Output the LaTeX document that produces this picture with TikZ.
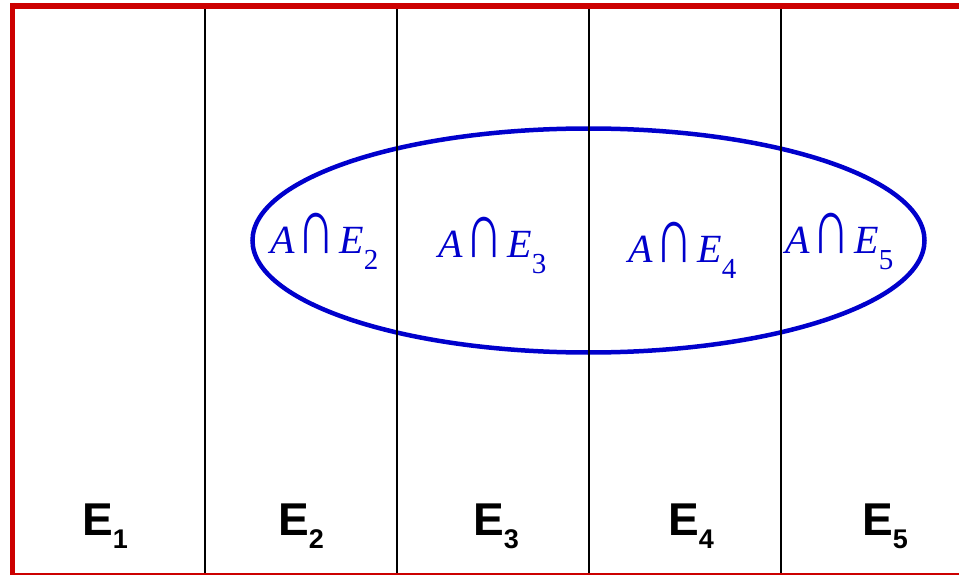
\documentclass[tikz,border=0pt]{standalone}
\usepackage{fontspec}
\usepackage{graphicx}
\setmainfont{Liberation Serif}
\newfontfamily\lsans{Liberation Sans}
\definecolor{framered}{RGB}{204,0,0}
\definecolor{setblue}{RGB}{0,0,204}
\newcommand{\bigcapsym}{\scalebox{1.3}[2.0]{∩}}
\newcommand{\mylab}[1]{\fontsize{40}{40}\selectfont\textit{A}\kern3pt\bigcapsym\kern4pt\textit{E}\raisebox{-16pt}{\fontsize{29}{29}\selectfont #1}}
\newcommand{\elab}[1]{\lsans\bfseries\fontsize{46}{46}\selectfont E\raisebox{-13pt}{\fontsize{27}{27}\selectfont #1}}
\tikzset{
  sep/.style={black, line width=2.2pt},
  frame/.style={framered},
  setlab/.style={setblue, anchor=base west, inner sep=0pt},
  elabel/.style={anchor=base west, inner sep=0pt}
}
\begin{document}
\begin{tikzpicture}[x=1pt,y=-1pt]
\useasboundingbox (0,0) rectangle (959,575);
% ellipse
\draw[setblue, line width=4.5pt] (588.5,240.5) ellipse [x radius=336, y radius=112];
% separators
\foreach \x in {205,397,589,781} \draw[sep] (\x,8) -- (\x,574);
% frame
\draw[frame, line width=6pt] (10,6) -- (959,6);
\draw[frame, line width=5pt] (12.5,3) -- (12.5,575);
\draw[frame, line width=1.5pt] (12,574) -- (959,574);
% intersection labels
\node[setlab] (a2) at (270,253) {\mylab{2}};
\node[setlab] (a3) at (438,257) {\mylab{3}};
\node[setlab] (a4) at (628,262) {\mylab{4}};
\node[setlab] (a5) at (785,253) {\mylab{5}};
% column labels
\node[elabel] (e1) at (82,535) {\elab{1}};
\node[elabel] (e2) at (278,535) {\elab{2}};
\node[elabel] (e3) at (473,535) {\elab{3}};
\node[elabel] (e4) at (668,535) {\elab{4}};
\node[elabel] (e5) at (862,535) {\elab{5}};
\end{tikzpicture}
\end{document}
